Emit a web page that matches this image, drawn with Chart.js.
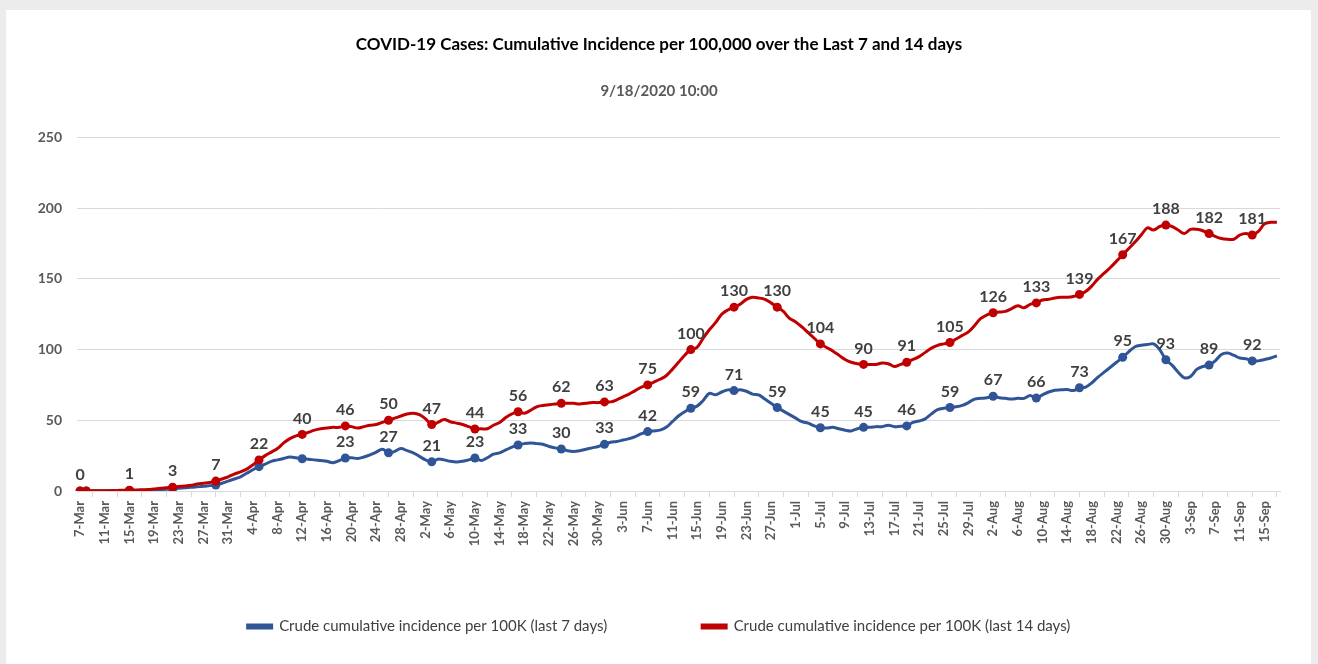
<!DOCTYPE html>
<html>
<head>
<meta charset="utf-8">
<script src="https://cdn.jsdelivr.net/npm/chart.js@4.4.1/dist/chart.umd.min.js"></script>
<style>
  html, body { margin: 0; padding: 0; background: #ececec; width: 1318px; height: 664px; overflow: hidden; }
  #card { position: absolute; left: 6px; top: 10px; width: 1305px; height: 660px; background: #ffffff; }
  #wrap { position: absolute; left: 0; top: 0; width: 1318px; height: 664px; }
</style>
</head>
<body>
<div id="card"></div>
<div id="wrap"><canvas id="c" width="1318" height="664"></canvas></div>
<script>
const categories = [
 '7-Mar','8-Mar','9-Mar','10-Mar','11-Mar','12-Mar','13-Mar','14-Mar','15-Mar','16-Mar','17-Mar','18-Mar','19-Mar','20-Mar','21-Mar','22-Mar','23-Mar','24-Mar','25-Mar','26-Mar','27-Mar','28-Mar','29-Mar','30-Mar','31-Mar',
 '1-Apr','2-Apr','3-Apr','4-Apr','5-Apr','6-Apr','7-Apr','8-Apr','9-Apr','10-Apr','11-Apr','12-Apr','13-Apr','14-Apr','15-Apr','16-Apr','17-Apr','18-Apr','19-Apr','20-Apr','21-Apr','22-Apr','23-Apr','24-Apr','25-Apr','26-Apr','27-Apr','28-Apr','29-Apr','30-Apr',
 '1-May','2-May','3-May','4-May','5-May','6-May','7-May','8-May','9-May','10-May','11-May','12-May','13-May','14-May','15-May','16-May','17-May','18-May','19-May','20-May','21-May','22-May','23-May','24-May','25-May','26-May','27-May','28-May','29-May','30-May','31-May',
 '1-Jun','2-Jun','3-Jun','4-Jun','5-Jun','6-Jun','7-Jun','8-Jun','9-Jun','10-Jun','11-Jun','12-Jun','13-Jun','14-Jun','15-Jun','16-Jun','17-Jun','18-Jun','19-Jun','20-Jun','21-Jun','22-Jun','23-Jun','24-Jun','25-Jun','26-Jun','27-Jun','28-Jun','29-Jun','30-Jun',
 '1-Jul','2-Jul','3-Jul','4-Jul','5-Jul','6-Jul','7-Jul','8-Jul','9-Jul','10-Jul','11-Jul','12-Jul','13-Jul','14-Jul','15-Jul','16-Jul','17-Jul','18-Jul','19-Jul','20-Jul','21-Jul','22-Jul','23-Jul','24-Jul','25-Jul','26-Jul','27-Jul','28-Jul','29-Jul','30-Jul','31-Jul',
 '1-Aug','2-Aug','3-Aug','4-Aug','5-Aug','6-Aug','7-Aug','8-Aug','9-Aug','10-Aug','11-Aug','12-Aug','13-Aug','14-Aug','15-Aug','16-Aug','17-Aug','18-Aug','19-Aug','20-Aug','21-Aug','22-Aug','23-Aug','24-Aug','25-Aug','26-Aug','27-Aug','28-Aug','29-Aug','30-Aug','31-Aug',
 '1-Sep','2-Sep','3-Sep','4-Sep','5-Sep','6-Sep','7-Sep','8-Sep','9-Sep','10-Sep','11-Sep','12-Sep','13-Sep','14-Sep','15-Sep','16-Sep','17-Sep'
];

// Crude cumulative incidence per 100K, last 14 days (daily)
const last14 = [
 0,0,0.1,0.1,0.2,0.3,0.4,0.5,0.6,0.7,
 0.8,1,1.5,2,2.3,2.7,3.2,3.5,4,5,
 5.5,6,7,8.5,10,12,13.5,15.5,18.5,22,
 25,27.5,30,34,37,39,40,41.5,43,44,
 44.5,45,45,46,45.5,44.5,45.5,46.5,47,48.5,
 50,51.5,53,54.5,55,54,51,47,48.5,50.5,
 49,48,47,45.5,43.8,44,44,46.5,48.5,52,
 54.5,56,55,57,59.5,60.5,61,61.5,62,62,
 62,61.5,62,62.5,62.5,63,63,64.5,66.5,68.5,
 71,73.5,75,77,79,81.5,86,91,96,100,
 101.5,108,114,119,125,128,130,132,135.5,137,
 136.5,135.5,133,130,127,122,119.5,116,112,108,
 104,101.5,99,96,93,91,90,89.5,89.5,89.5,
 90.5,90,88,89.5,91,93,95,98,101,103,
 104,105,107.5,110,112.5,117,122,124.5,126,126.5,
 127,129,131,129.5,132,133,135,135.5,136.5,137,
 137,137.5,139,141,145,150,154,158,162.5,167,
 171.5,176,181,186,184.5,187,188,187,184.5,182,
 185,185,184,182,180,178.5,178,178,181,182,
 181,183.5,189,190,190
];

// Crude cumulative incidence per 100K, last 7 days (daily)
const last7 = [
 0,0,0.1,0.1,0.1,0.2,0.3,0.3,0.4,0.4,
 0.5,0.6,0.8,1,1.2,1.5,2,2.3,2.7,3,
 3.3,3.8,4.2,5.5,7,8.5,10,12.5,15,17.2,
 19,21,22,23,24,23.5,22.8,22.5,22,21.5,
 21,20,21.5,23.3,23.5,23,24,25.5,27.5,29.5,
 27,28,30,28.5,27,24.5,22,20.6,22.5,22,
 21,20.5,21,22,23.3,21.5,23.5,26,27,29,
 31,32.5,33.5,34,33.5,33,31.5,30.5,29.7,28.5,
 28,28.5,29.5,30.5,31.5,33,34.5,35,36,37,
 38.5,40.5,42,42.5,43,45,49,53,56,58.5,
 60,64,69,68,70,71.5,71,71.5,70.5,68.5,
 68,65,62,59,56.5,54,51.5,49,48,46,
 44.7,44.5,45,44,43,42.5,44,45,45,45.5,
 45.5,46.5,45.5,45.7,46,48.5,49.5,51,54.5,57.5,
 58.5,59,59.5,60.5,62.5,65,65.5,66,67,66,
 65.5,65,65.5,65.5,67.5,65.7,68,70,71.3,71.5,
 71.7,71,73,73.5,76.5,80.5,84,87.5,91,94.5,
 98.5,102,103,103.5,104,100,92.8,89,84,80,
 81,86,88,89,92,96.5,97.5,96,94,93.5,
 92,92,93,94,95.5
];

// Days carrying a marker (index into categories) and their value labels
const markerDays = [0,1,8,15,22,29,36,43,50,57,64,71,78,85,92,99,106,113,120,127,134,141,148,155,162,169,176,183,190];
const labels14 = [0,null,1,3,7,22,40,46,50,47,44,56,62,63,75,100,130,130,104,90,91,105,126,133,139,167,188,182,181];
const labels7  = [null,null,null,null,null,null,null,23,27,21,23,33,30,33,42,59,71,59,45,45,46,59,67,66,73,95,93,89,92];

const yTicks = [0,50,100,150,200,250];

const BLUE = '#2F5597';
const RED = '#C00000';

const valueLabelPlugin = {
  id: 'valueLabels',
  afterDatasetsDraw(chart) {
    const ctx = chart.ctx;
    ctx.save();
    ctx.font = 'bold 16px Lato';
    ctx.fillStyle = '#404040';
    ctx.textAlign = 'center';
    ctx.textBaseline = 'middle';
    chart.data.datasets.forEach((ds, di) => {
      const meta = chart.getDatasetMeta(di);
      ds.valueLabels.forEach((txt, k) => {
        if (txt === null) return;
        const pt = meta.data[markerDays[k]];
        ctx.fillText(String(txt), pt.x, pt.y - 16);
      });
    });
    ctx.restore();
  }
};

function build() {
  Chart.defaults.font.family = 'Lato';
  new Chart(document.getElementById('c'), {
    type: 'line',
    data: {
      labels: categories,
      datasets: [
        {
          label: 'Crude cumulative incidence per 100K (last 14 days)',
          data: last14,
          valueLabels: labels14,
          borderColor: RED,
          backgroundColor: RED,
          borderWidth: 3,
          tension: 0.35,
          pointRadius: (c) => markerDays.includes(c.dataIndex) ? 4.5 : 0,
          pointBackgroundColor: RED,
          pointBorderColor: RED,
          pointBorderWidth: 0
        },
        {
          label: 'Crude cumulative incidence per 100K (last 7 days)',
          data: last7,
          valueLabels: labels7,
          borderColor: BLUE,
          backgroundColor: BLUE,
          borderWidth: 3,
          tension: 0.35,
          pointRadius: (c) => markerDays.includes(c.dataIndex) ? 4.5 : 0,
          pointBackgroundColor: BLUE,
          pointBorderColor: BLUE,
          pointBorderWidth: 0
        }
      ]
    },
    options: {
      responsive: false,
      animation: false,
      events: [],
      layout: { padding: { left: 38, right: 38, top: 12, bottom: 20 } },
      plugins: {
        title: {
          display: true,
          text: 'COVID-19 Cases: Cumulative Incidence per 100,000 over the Last 7 and 14 days',
          color: '#000000',
          font: { size: 17, weight: 'bold' },
          padding: { top: 22, bottom: 20 }
        },
        subtitle: {
          display: true,
          text: '9/18/2020 10:00',
          color: '#595959',
          font: { size: 15, weight: 'bold' },
          padding: { top: 8, bottom: 37 }
        },
        legend: {
          position: 'bottom',
          reverse: true,
          labels: {
            boxWidth: 24,
            boxHeight: 3,
            padding: 95,
            color: '#404040',
            font: { size: 15 }
          }
        },
        tooltip: { enabled: false }
      },
      scales: {
        x: {
          type: 'category',
          offset: true,
          afterFit: (s) => {
            s.height = 33;
            // rotated date labels hang below the thin axis box; do not clip them to it
            s._computeLabelArea = () => undefined;
          },
          grid: {
            offset: true,
            drawOnChartArea: false,
            drawTicks: true,
            tickLength: 6,
            color: '#d9d9d9'
          },
          border: { display: true, color: '#d9d9d9' },
          ticks: {
            autoSkip: false,
            maxRotation: 90,
            minRotation: 90,
            padding: 4,
            color: '#595959',
            font: { size: 13, weight: 'bold' },
            callback: function (val, i) { return i % 4 === 0 ? this.getLabelForValue(val) : null; }
          }
        },
        y: {
          min: 0,
          max: 250,
          afterFit: (s) => { s.width = 39; },
          afterBuildTicks: (s) => { s.ticks = yTicks.map(v => ({ value: v })); },
          grid: { color: '#d9d9d9', drawTicks: false },
          border: { display: false },
          ticks: {
            padding: 15,
            color: '#595959',
            font: { size: 14, weight: 'bold' }
          }
        }
      }
    },
    plugins: [valueLabelPlugin]
  });
}

Promise.all([
  document.fonts.load('bold 15px Lato'),
  document.fonts.load('15px Lato')
]).then(build, build);
</script>
</body>
</html>
